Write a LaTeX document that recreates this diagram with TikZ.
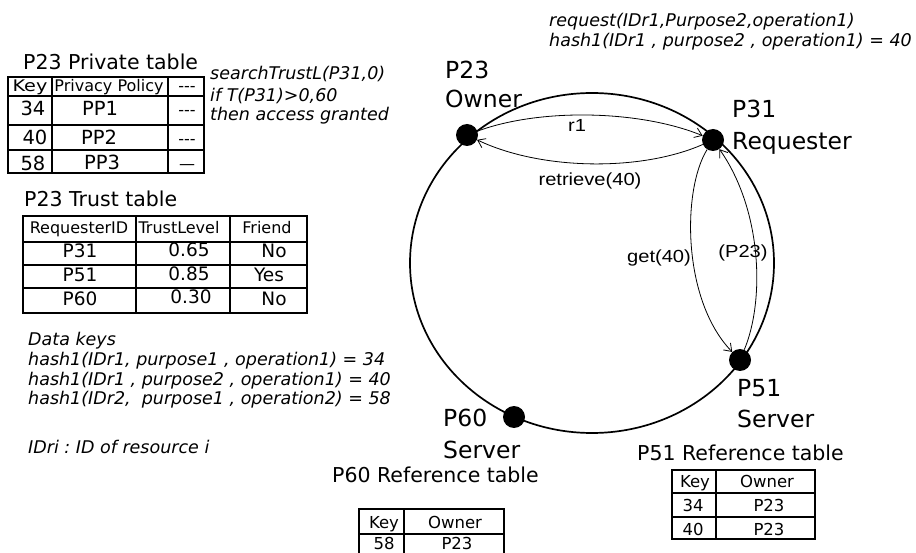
\documentclass[tikz,border=0pt]{standalone}
\usepackage{fontspec}
\usepackage{graphicx}
\setmainfont{DejaVu Sans}
\newfontfamily\lblfont{Liberation Sans}[FakeStretch=1.15]
\usetikzlibrary{arrows.meta}
\frenchspacing

\begin{document}
\begin{tikzpicture}[x=1pt,y=-1pt,
  ring/.style={line width=1.7pt},
  peer/.style={circle,fill=black,inner sep=0pt,minimum size=22pt},
  msg/.style={line width=0.8pt,-{Straight Barb[length=7pt,width=10pt]}},
  msglabel/.style={font=\lblfont\fontsize{17.5}{20}\selectfont,inner sep=0pt,anchor=base},
  bigtxt/.style={font=\fontsize{23.5}{28}\selectfont,inner sep=0pt,anchor=base west},
  titletxt/.style={font=\fontsize{20.5}{24}\selectfont,inner sep=0pt,anchor=base west},
  note/.style={font=\itshape\fontsize{17.5}{20}\selectfont,inner sep=0pt,anchor=base west},
  grid/.style={line width=1.2pt},
  head/.style={font=\fontsize{16}{19}\selectfont,inner sep=0pt,anchor=base},
  cell/.style={font=\fontsize{19.5}{22}\selectfont,inner sep=0pt,anchor=base},
  tcell/.style={font=\fontsize{18.5}{22}\selectfont,inner sep=0pt,anchor=base},
  rcell/.style={font=\fontsize{16.5}{19}\selectfont,inner sep=0pt,anchor=base},
]
\useasboundingbox (0,0) rectangle (916,553);

% ---------------- ring of peers ----------------
\draw[ring] (592,263) ellipse [x radius=182pt, y radius=170pt];
\node[peer] (p23) at (467,135) {};
\node[peer] (p31) at (713,140) {};
\node[peer] (p51) at (740,360) {};
\node[peer] (p60) at (514,417) {};

\node[bigtxt] (p23n) at (445,79) {P23};
\node[bigtxt] (p23r) at (445,108) {Owner};
\node[bigtxt] (p31n) at (732,118) {P31};
\node[bigtxt] (p31r) at (732,150) {Requester};
\node[bigtxt] (p51n) at (737,396) {P51};
\node[bigtxt] (p51r) at (737,427) {Server};
\node[bigtxt] (p60n) at (443,426) {P60};
\node[bigtxt] (p60r) at (443,458) {Server};

% messages between peers
\draw[msg] (p23) .. controls (540,108) and (640,110) .. (p31);
\draw[msg] (p31) .. controls (640,172) and (540,170) .. (p23);
\draw[msg] (p31) .. controls (682,190) and (682,300) .. (p51);
\draw[msg] (p51) .. controls (765,300) and (762,210) .. (p31);

\node[msglabel] (lr1) at (577,132) {r1};
\node[msglabel] (lret) at (590,186) {retrieve(40)};
\node[msglabel] (lget) at (659,263) {get(40)};
\node[msglabel] (lown) at (743,258) {(P23)};

% request issued by P31
\node[note] (req1) at (549,27) {request(IDr1,Purpose2,operation1)};
\node[note] (req2) at (549,47) {hash1(IDr1 , purpose2 , operation1) = 40};

% ---------------- P23 private table ----------------
\node[titletxt] (privt) at (23,70) {P23 Private table};
\draw[grid] (8,77) rectangle (204,173);
\draw[grid] (52,77) -- (52,173) (168,77) -- (168,173);
\draw[grid] (8,96) -- (204,96) (8,125) -- (204,125) (8,150) -- (204,150);
\node[head] (pk) at (30,92) {\scalebox{1.2}[1]{Key}};
\node[head] (pp) at (109,92) {Privacy Policy};
\node[head] (pd) at (187,92) {-{}-{}-};
\node[cell] (k34) at (33,116) {34};
\node[cell] (pp1) at (100,116) {PP1};
\node[head] (d1) at (187,116) {-{}-{}-};
\node[cell] (k40) at (35,145) {40};
\node[cell] (pp2) at (99,145) {PP2};
\node[head] (d2) at (187,145) {-{}-{}-};
\node[cell] (k58) at (33,171) {58};
\node[cell] (pp3) at (102,170) {PP3};
\node[head] (d3) at (187,170) {\textemdash};

\node[note] (c1) at (210,80) {searchTrustL(P31,0)};
\node[note] (c2) at (210,102) {if T(P31)>0,60};
\node[note] (c3) at (210,121) {then access granted};

% ---------------- P23 trust table ----------------
\node[titletxt] (trustt) at (24,207) {P23 Trust table};
\draw[grid] (23,216) rectangle (307,313);
\draw[grid] (136,216) -- (136,313) (230,216) -- (230,313);
\draw[grid] (23,242) -- (307,242) (23,265) -- (307,265) (23,288) -- (307,288);
\node[head] (tr) at (79,234) {RequesterID};
\node[head] (tl) at (179,234) {TrustLevel};
\node[head] (tf) at (267,234) {Friend};
\node[tcell] (r31) at (80,258) {P31};
\node[tcell] (v31) at (189,257) {0.65};
\node[tcell] (f31) at (274,258) {No};
\node[tcell] (r51) at (80,282) {P51};
\node[tcell] (v51) at (189,281) {0.85};
\node[tcell] (f51) at (269,282) {Yes};
\node[tcell] (r60) at (80,306) {P60};
\node[tcell] (v60) at (191,304) {0.30};
\node[tcell] (f60) at (274,306) {No};

% ---------------- data keys ----------------
\node[note] (dk0) at (28,346) {Data keys};
\node[note] (dk1) at (28,366) {hash1(IDr1, purpose1 , operation1) = 34};
\node[note] (dk2) at (28,385) {hash1(IDr1 , purpose2 , operation1) = 40};
\node[note] (dk3) at (28,404) {hash1(IDr2,\ \ purpose1 , operation2) = 58};
\node[note] (idr) at (28,453) {IDri : ID of resource i};

% ---------------- P51 reference table ----------------
\node[titletxt] (ref51) at (637,460) {P51 Reference table};
\draw[grid] (672,470) rectangle (815,539);
\draw[grid] (716,470) -- (716,539);
\draw[grid] (672,493) -- (815,493) (672,517) -- (815,517);
\node[rcell] (rk51) at (695,487) {Key};
\node[rcell] (ro51) at (767,487) {Owner};
\node[rcell] (k51a) at (693,511) {34};
\node[rcell] (o51a) at (769,511) {P23};
\node[rcell] (k51b) at (693,535) {40};
\node[rcell] (o51b) at (769,535) {P23};

% ---------------- P60 reference table ----------------
\node[titletxt] (ref60) at (332,482) {P60 Reference table};
\draw[grid] (359,556) |- (504,509) -- (504,556);
\draw[grid] (404,509) -- (404,556);
\draw[grid] (359,534) -- (504,534);
\node[rcell] (rk60) at (384,528) {Key};
\node[rcell] (ro60) at (455,528) {Owner};
\node[rcell] (k60) at (384,549) {58};
\node[rcell] (o60) at (457,549) {P23};
\end{tikzpicture}
\end{document}
